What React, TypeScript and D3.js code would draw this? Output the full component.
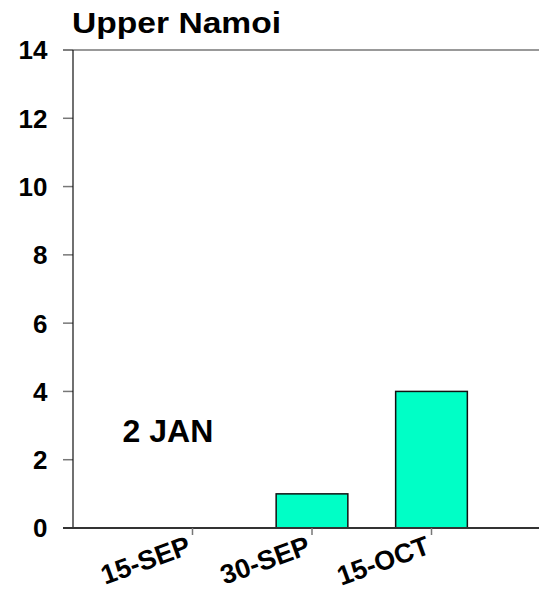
import React from "react";
import * as d3 from "d3";

const categories = ["15-SEP", "30-SEP", "15-OCT"];
const values = [0, 1, 4];
const yTicks = [0, 2, 4, 6, 8, 10, 12, 14];
const title = "Upper Namoi";
const annotation = "2 JAN";

const W = 539;
const H = 589;
const left = 73;
const right = 551;
const top = 50;
const bottom = 528;
const font = "Arial, 'Liberation Sans', Helvetica, sans-serif";

export default function App() {
  const x = d3.scaleLinear().domain([0, 4]).range([left, right]);
  const y = d3.scaleLinear().domain([0, 14]).range([bottom, top]);
  const bw = x(0.6) - x(0);
  return (
    <svg width={W} height={H} style={{ position: "absolute", left: 0, top: 0, background: "#fff" }} fontFamily={font} fontWeight="bold">
      <rect x={0} y={0} width={W} height={H} fill="#fff" />
      <text transform="translate(72,33) scale(1.12,1)" fontSize={30}>{title}</text>
      {/* top frame line */}
      <line x1={63} x2={W} y1={y(14)} y2={y(14)} stroke="#777" strokeWidth={1.5} />
      {/* bars */}
      {values.map((v, i) =>
        v > 0 ? (
          <rect key={i} x={x(i + 1) - bw / 2} y={y(v)} width={bw} height={y(0) - y(v)} fill="#00FFC6" stroke="#111" strokeWidth={1.5} />
        ) : null
      )}
      {/* y ticks */}
      {yTicks.map((t) => (
        <g key={t}>
          <line x1={63} x2={left} y1={y(t)} y2={y(t)} stroke="#777" strokeWidth={1.5} />
          <text x={47.5} y={y(t)} dy="0.36em" textAnchor="end" fontSize={26}>{t}</text>
        </g>
      ))}
      {/* y axis */}
      <line x1={left} x2={left} y1={top} y2={bottom} stroke="#111" strokeWidth={1.2} />
      {/* x axis */}
      <line x1={63} x2={W} y1={bottom} y2={bottom} stroke="#333" strokeWidth={2} />
      {categories.map((c, i) => (
        <g key={c}>
          <line x1={x(i + 1)} x2={x(i + 1)} y1={bottom} y2={bottom + 7} stroke="#777" strokeWidth={1.5} />
          <text transform={`translate(${x(i + 1)},${bottom + 25}) rotate(-20)`} textAnchor="end" fontSize={27}>{c}</text>
        </g>
      ))}
      <text x={x(0.415)} y={y(2.52)} fontSize={32}>{annotation}</text>
    </svg>
  );
}
